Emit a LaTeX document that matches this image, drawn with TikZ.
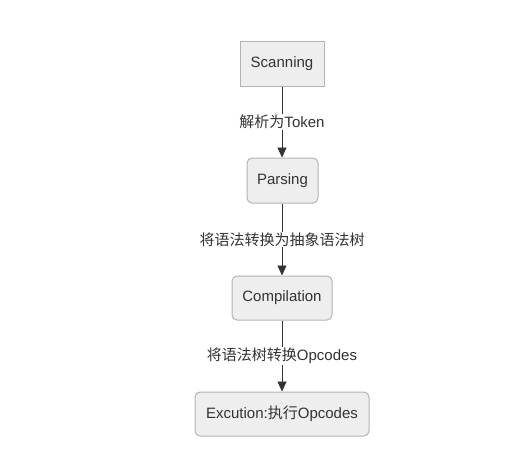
\documentclass[tikz,border=0pt]{standalone}
\usepackage{fontspec}
\setmainfont{Liberation Sans}
\newfontfamily\cjk{Noto Sans CJK SC}
\usetikzlibrary{arrows.meta}
\definecolor{boxfill}{HTML}{EEEEEE}
\definecolor{boxline}{HTML}{B3B3B3}
\definecolor{txt}{HTML}{333333}
\tikzset{
  stepbox/.style={draw=boxline, fill=boxfill, line width=1pt, text=txt, font=\fontsize{15}{17}\selectfont, inner sep=0pt},
  conn/.style={draw=txt, line width=0.9pt, -{Triangle[width=9pt,length=10pt]}},
  lbl/.style={fill=white, text=txt, font=\fontsize{15}{17}\selectfont, inner sep=1pt}
}
\begin{document}
\begin{tikzpicture}[x=1pt,y=-1pt]
\useasboundingbox (0,0) rectangle (513,461);
\node[stepbox, minimum width=84pt, minimum height=45pt] (s) at (282,63.5) {Scanning};
\node[stepbox, rounded corners=5pt, minimum width=71pt, minimum height=45pt] (p) at (282.5,180.5) {Parsing};
\node[stepbox, rounded corners=5pt, minimum width=100pt, minimum height=44pt] (c) at (282,298) {Compilation};
\node[stepbox, rounded corners=5pt, minimum width=174pt, minimum height=44pt] (e) at (282,414) {Excution:{\cjk 执行}Opcodes};
\draw[conn] (s) -- node[lbl] {{\cjk 解析为}Token} (s.south |- p.north);
\draw[conn] (p.south -| s.south) -- node[lbl] {\cjk 将语法转换为抽象语法树} (s.south |- c.north);
\draw[conn] (c) -- node[lbl] {{\cjk 将语法树转换}Opcodes} (c.south |- e.north);
\end{tikzpicture}
\end{document}
